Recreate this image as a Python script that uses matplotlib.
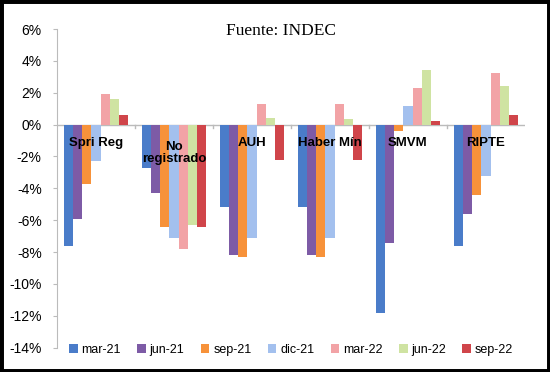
import matplotlib
matplotlib.use('Agg')
import matplotlib.pyplot as plt
import matplotlib.patches as patches
import numpy as np

# data (percent change)
groups = ['Spri Reg', 'No\nregistrado', 'AUH', 'Haber Mín', 'SMVM', 'RIPTE']
series = ['mar-21', 'jun-21', 'sep-21', 'dic-21', 'mar-22', 'jun-22', 'sep-22']
mar21 = [-7.6, -2.7, -5.2, -5.2, -11.8, -7.6]
jun21 = [-5.9, -4.3, -8.2, -8.2, -7.4, -5.6]
sep21 = [-3.7, -6.4, -8.3, -8.3, -0.4, -4.4]
dic21 = [-2.3, -7.1, -7.1, -7.1, 1.2, -3.2]
mar22 = [1.9, -7.8, 1.3, 1.3, 2.3, 3.25]
jun22 = [1.6, -6.3, 0.4, 0.35, 3.45, 2.4]
sep22 = [0.6, -6.4, -2.2, -2.25, 0.25, 0.6]
yticks = [6, 4, 2, 0, -2, -4, -6, -8, -10, -12, -14]

colors = ['#4A7CC9', '#7D5BA6', '#F7923A', '#A3C0EE', '#F2A3A6', '#CFE3A2', '#D0454A']

fig = plt.figure(figsize=(5.5, 3.72), dpi=100)
ax = fig.add_axes([0.1036, 0.0653, 0.8509, 0.8567])

vals = [mar21, jun21, sep21, dic21, mar22, jun22, sep22]
x = np.arange(len(groups))
w = 1 / (len(series) + 1.45)
for i, (name, v) in enumerate(zip(series, vals)):
    ax.bar(x + (i - 3) * w, v, w, color=colors[i], label=name, zorder=3)

ax.set_xlim(-0.5, len(groups) - 0.5)
ax.set_ylim(-14, 6)
ax.set_yticks(yticks)
ax.set_yticklabels([f'{t}%' for t in yticks], fontsize=10, family='Liberation Sans')
ax.tick_params(axis='y', length=3, color='#BBBBBB', pad=8)
ax.set_xticks([])

for s in ['top', 'right', 'bottom']:
    ax.spines[s].set_visible(False)
ax.spines['left'].set_color('#BBBBBB')

# category axis along zero with tick marks between groups
ax.axhline(0, color='#BBBBBB', lw=1, zorder=2)
for b in np.arange(0.5, len(groups) - 0.5, 1):
    ax.plot([b, b], [0, -0.2], color='#BBBBBB', lw=1, zorder=2)

for xi, g in zip(x, groups):
    ax.text(xi, -1.15 if '\n' not in g else -1.75, g, ha='center', va='center',
            fontsize=9.5, fontweight='bold', family='Liberation Sans',
            linespacing=1.0, zorder=5)

fig.text(0.51, 0.918, 'Fuente: INDEC', ha='center', va='center',
         fontsize=12.5, family='Liberation Serif')

ax.legend(loc='lower center', bbox_to_anchor=(0.5, -0.06), ncol=7, frameon=False,
          prop={'family': 'Liberation Sans', 'size': 9},
          handlelength=0.7, handleheight=0.7, handletextpad=0.3, columnspacing=1.3)

# black picture frame
fig.patches.append(patches.Rectangle((0, 0), 1, 1, transform=fig.transFigure,
                                     fill=False, edgecolor='black', lw=5))

fig.savefig('out.png', dpi=100)
